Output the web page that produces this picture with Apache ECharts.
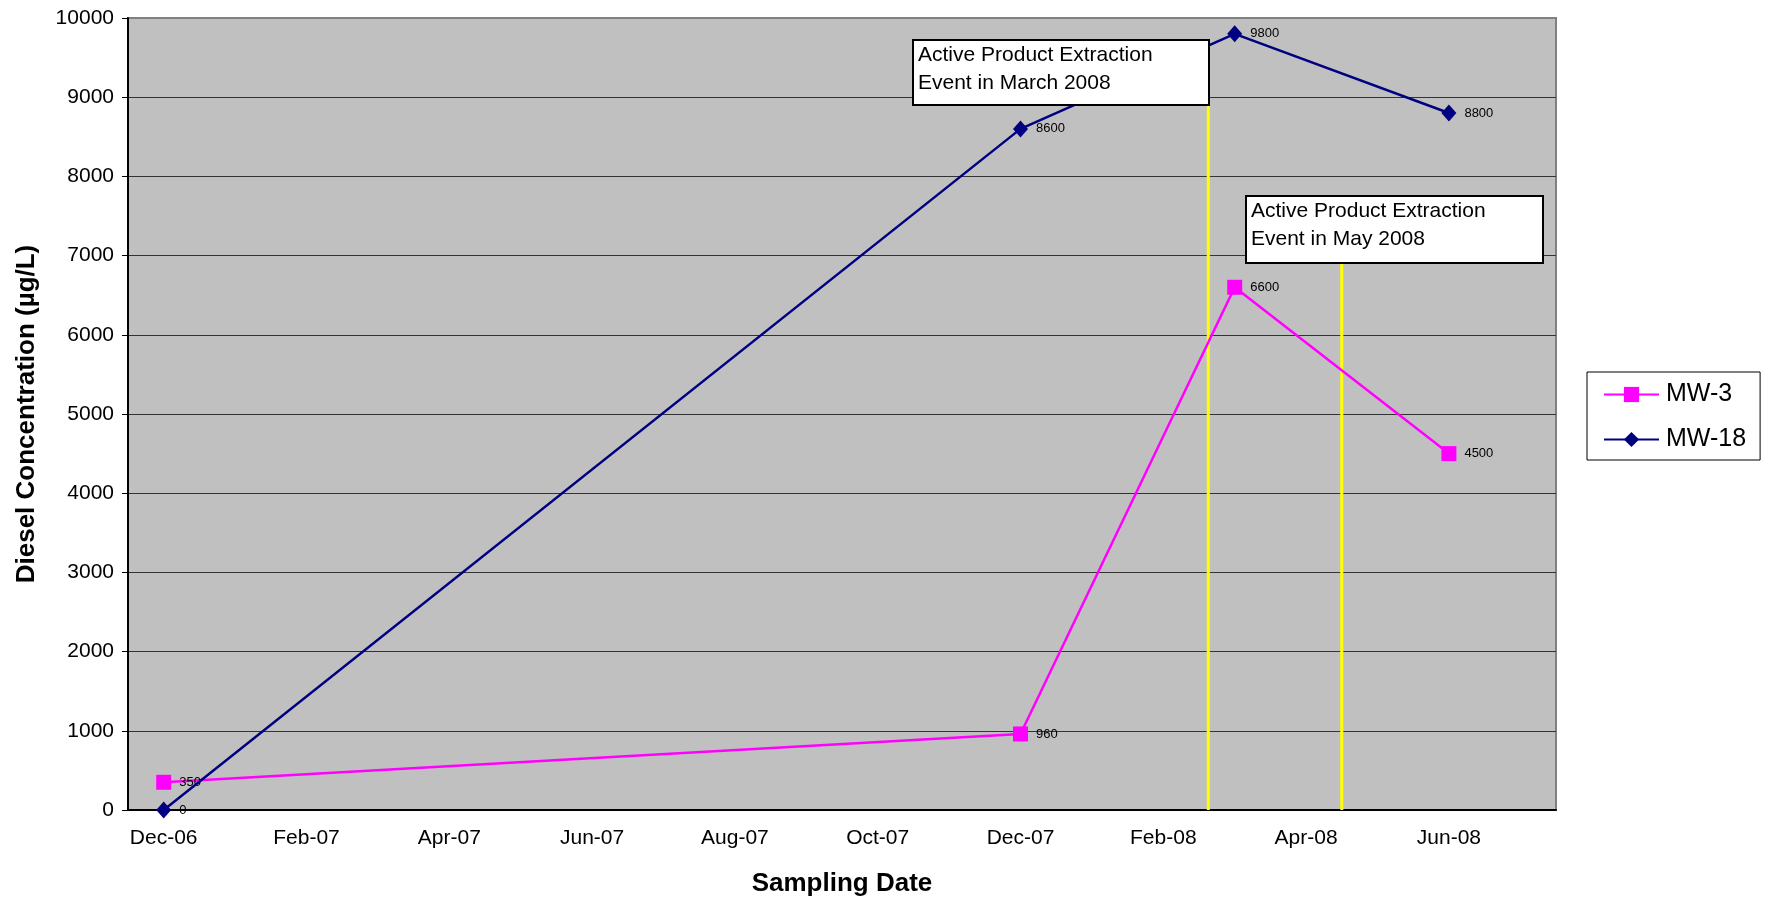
<!DOCTYPE html>
<html>
<head>
<meta charset="utf-8">
<script src="https://cdn.jsdelivr.net/npm/echarts@6/dist/echarts.min.js"></script>
<style>
  html, body { margin: 0; padding: 0; background: #ffffff; }
  #chart { width: 1769px; height: 902px; }
</style>
</head>
<body>
<div id="chart"></div>
<script>
// Monthly date axis, Dec-06 through Jul-08
const months = ['Dec-06','Jan-07','Feb-07','Mar-07','Apr-07','May-07','Jun-07','Jul-07',
  'Aug-07','Sep-07','Oct-07','Nov-07','Dec-07','Jan-08','Feb-08','Mar-08','Apr-08',
  'May-08','Jun-08','Jul-08'];

// Sampling dates and diesel concentrations (µg/L)
const sampleDates = ['Dec-06', 'Dec-07', 'Mar-08', 'Jun-08'];
const mw3 = [350, 960, 6600, 4500];
const mw18 = [0, 8600, 9800, 8800];

// Product extraction events, in months from the start of Dec-06
const eventPositions = [15.13, 17.0];
const eventTexts = ['Active Product Extraction\nEvent in March 2008',
                    'Active Product Extraction\nEvent in May 2008'];
const eventLineTops = [9000, 7000];

const FONT = "'Liberation Sans', Arial, sans-serif";

const pair = (vals) => sampleDates.map((d, i) => [d, vals[i]]);

const labelStyle = {
  show: true, position: 'right', distance: 8,
  fontSize: 13, color: '#000', fontFamily: FONT
};

const eventSeries = eventPositions.map((x, i) => ({
  name: 'event' + i,
  type: 'line',
  xAxisIndex: 1,
  data: [[x, 0], [x, eventLineTops[i]]],
  symbol: 'none',
  silent: true,
  z: 1,
  lineStyle: { color: '#FFFF00', width: 3 }
}));

const chart = echarts.init(document.getElementById('chart'), null, { renderer: 'canvas' });

chart.setOption({
  animation: false,
  textStyle: { fontFamily: FONT },
  grid: {
    left: 128, top: 18, right: 213, bottom: 90,
    show: true, backgroundColor: '#C0C0C0',
    borderColor: '#808080', borderWidth: 2
  },
  legend: {
    data: ['MW-3', 'MW-18'],
    orient: 'vertical',
    left: 1587, top: 372,
    padding: [10, 14, 8, 16],
    itemGap: 20,
    itemWidth: 55, itemHeight: 19,
    backgroundColor: '#ffffff',
    borderColor: '#000000', borderWidth: 1,
    textStyle: { fontSize: 25, color: '#000', fontFamily: FONT, padding: [0, 0, 0, 2] }
  },
  xAxis: [{
    type: 'category',
    data: months,
    boundaryGap: true,
    name: 'Sampling Date',
    nameLocation: 'middle',
    nameGap: 61,
    nameTextStyle: { fontSize: 26, fontWeight: 'bold', color: '#000', fontFamily: FONT },
    axisLine: { lineStyle: { color: '#000', width: 2 } },
    axisTick: { interval: 1, length: 6, lineStyle: { color: '#000', width: 1 } },
    axisLabel: { interval: 1, fontSize: 21, color: '#000', margin: 18, fontFamily: FONT },
    splitLine: { show: false }
  }, {
    type: 'value',
    min: 0, max: 20, interval: 2,
    show: false
  }],
  yAxis: {
    type: 'value',
    min: 0, max: 10000, interval: 1000,
    name: 'Diesel Concentration (µg/L)',
    nameLocation: 'middle',
    nameGap: 88,
    nameTextStyle: { fontSize: 26, fontWeight: 'bold', color: '#000', fontFamily: FONT },
    axisLine: { show: true, lineStyle: { color: '#000', width: 2 } },
    axisTick: { show: true, length: 6, lineStyle: { color: '#000', width: 1 } },
    axisLabel: { fontSize: 21, color: '#000', margin: 14, fontFamily: FONT,
                 formatter: (v) => String(v) },
    splitLine: {
      show: true,
      lineStyle: { color: ['#333','#333','#333','#333','#333','#333','#333','#333','#333','#333','#808080'], width: 1 }
    }
  },
  series: [
    ...eventSeries,
    {
      name: 'MW-3',
      type: 'line',
      data: pair(mw3),
      symbol: 'rect', symbolSize: 15,
      itemStyle: { color: '#FF00FF' },
      lineStyle: { color: '#FF00FF', width: 2.5 },
      label: labelStyle,
      z: 3
    },
    {
      name: 'MW-18',
      type: 'line',
      data: pair(mw18),
      symbol: 'diamond', symbolSize: [15, 17],
      itemStyle: { color: '#000080' },
      lineStyle: { color: '#000080', width: 2.5 },
      label: labelStyle,
      z: 4
    }
  ]
});

// Annotation boxes for the extraction events
const boxes = [
  { x: 912, y: 39, w: 296, h: 65 },
  { x: 1245, y: 195, w: 297, h: 67 }
];
chart.setOption({
  graphic: boxes.map((b, i) => ({
    type: 'group',
    left: b.x, top: b.y,
    z: 100,
    children: [{
      type: 'rect',
      shape: { x: 0, y: 0, width: b.w, height: b.h },
      style: { fill: '#ffffff', stroke: '#000000', lineWidth: 2 },
      z: 100
    }, {
      type: 'text',
      x: 5, y: 1,
      style: {
        text: eventTexts[i],
        fontSize: 21, lineHeight: 28,
        fontFamily: FONT, fill: '#000'
      },
      z: 101
    }]
  }))
});
</script>
</body>
</html>
